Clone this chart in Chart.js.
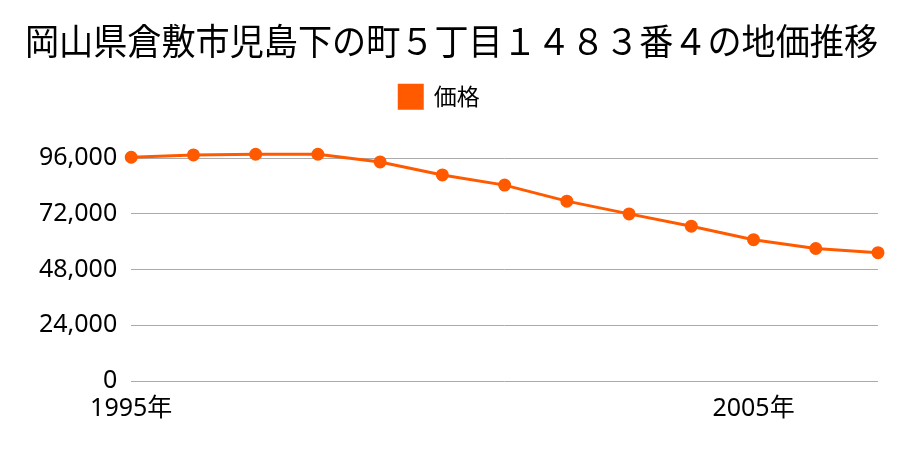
<!DOCTYPE html>
<html>
<head>
<meta charset="utf-8">
<script src="https://cdn.jsdelivr.net/npm/chart.js@4"></script>
<style>
  html, body { margin: 0; padding: 0; background: #fff; }
  #wrap { width: 900px; height: 450px; }
</style>
</head>
<body>
<div id="wrap"><canvas id="priceChart" width="900" height="450"></canvas></div>
<script>
var years = ['1995', '1996', '1997', '1998', '1999', '2000', '2001', '2002', '2003', '2004', '2005', '2006', '2007'];
var prices = [96400, 97400, 97700, 97700, 94400, 88800, 84400, 77500, 72000, 66700, 60900, 57100, 55300];
var shownYears = ['1995', '2005'];

var font = '"Noto Sans", "Noto Sans CJK JP", sans-serif';
var titleFont = '"Noto Sans CJK JP", "Noto Sans", sans-serif';

// push the plot area down below the legend, and nudge the legend a bit left
var legendGap = {
  id: 'legendGap',
  beforeInit: function (chart) {
    var fit = chart.legend.fit;
    chart.legend.fit = function () {
      fit.bind(chart.legend)();
      this.height += 40;
    };
  },
  afterLayout: function (chart) {
    chart.legend.right -= 24;
  }
};

var ctx = document.getElementById('priceChart');
var priceChart = new Chart(ctx, {
  type: 'line',
  data: {
    labels: years,
    datasets: [{
      label: '価格',
      data: prices,
      borderColor: '#ff5a00',
      backgroundColor: '#ff5a00',
      borderWidth: 3,
      pointRadius: 5,
      pointHoverRadius: 5,
      tension: 0,
      clip: false
    }]
  },
  plugins: [legendGap],
  options: {
    responsive: false,
    animation: false,
    layout: { padding: { left: 25, right: 22, top: 0, bottom: 21 } },
    plugins: {
      title: {
        display: true,
        text: '岡山県倉敷市児島下の町５丁目１４８３番４の地価推移',
        color: '#000',
        font: { family: titleFont, size: 36, weight: 'normal' },
        padding: { top: 20, bottom: 12 }
      },
      legend: {
        labels: {
          color: '#000',
          boxWidth: 23,
          boxHeight: 23,
          font: { family: titleFont, size: 23 },
          padding: 10
        }
      },
      tooltip: { enabled: false }
    },
    scales: {
      x: {
        grid: { display: false },
        border: { display: false },
        ticks: {
          autoSkip: false,
          maxRotation: 0,
          color: '#000',
          font: { family: font, size: 25 },
          padding: 5,
          callback: function (value, index) {
            var y = years[index];
            return shownYears.indexOf(y) >= 0 ? y + '年' : '';
          }
        }
      },
      y: {
        min: 0,
        max: 96000,
        border: { display: false },
        grid: { color: '#aaaaaa', lineWidth: 1, drawTicks: false },
        ticks: {
          stepSize: 24000,
          color: '#000',
          font: { family: font, size: 25 },
          padding: 14,
          callback: function (value) {
            return value.toLocaleString('en-US');
          }
        }
      }
    }
  }
});
</script>
</body>
</html>
